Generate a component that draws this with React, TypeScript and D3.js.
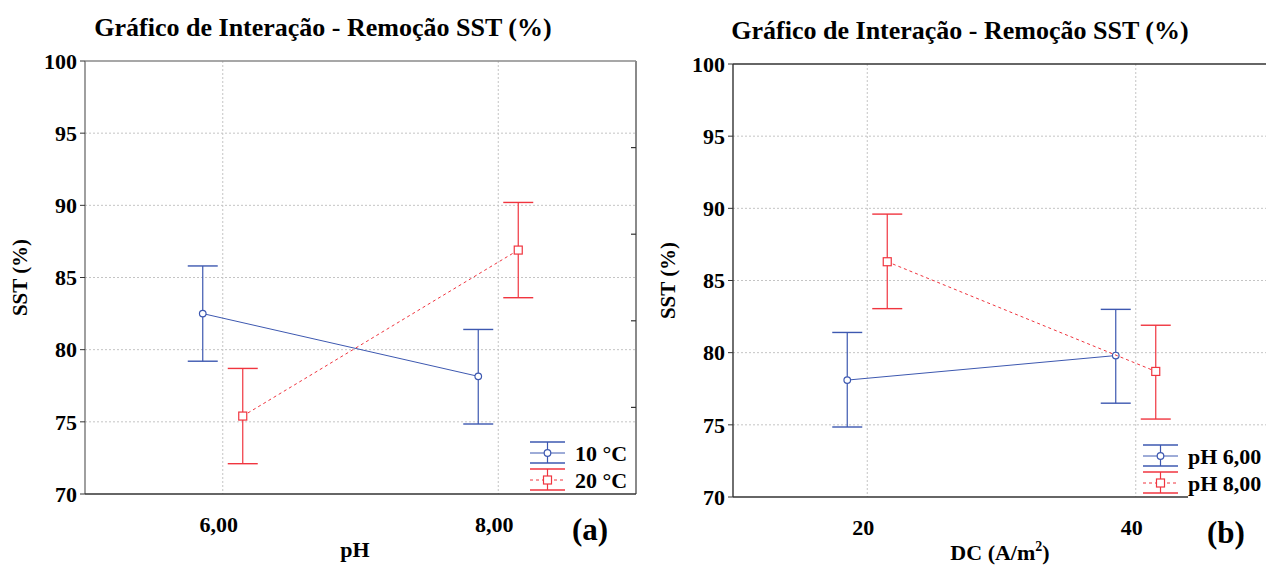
import React from "react";
import * as d3 from "d3";

// ---------- data ----------
const yTicks = [70, 75, 80, 85, 90, 95, 100];

const phLevels = [6, 8];
const phTickLabels = ["6,00", "8,00"];
const tempSeriesNames = ["10 °C", "20 °C"];
const sst10C = [82.5, 78.15];
const sst10CLow = [79.2, 74.85];
const sst10CHigh = [85.8, 81.4];
const sst20C = [75.4, 86.9];
const sst20CLow = [72.1, 83.6];
const sst20CHigh = [78.7, 90.2];

const dcLevels = [20, 40];
const dcTickLabels = ["20", "40"];
const phSeriesNames = ["pH 6,00", "pH 8,00"];
const sstPh6 = [78.1, 79.8];
const sstPh6Low = [74.85, 76.5];
const sstPh6High = [81.4, 83.0];
const sstPh8 = [86.3, 78.7];
const sstPh8Low = [83.05, 75.4];
const sstPh8High = [89.6, 81.9];

const TITLE = "Gráfico de Interação - Remoção SST (%)";

// ---------- styles ----------
const BLUE = "#3d58b0";
const RED = "#f0353f";
const GRID = "#c4c4c4";
const FONT = "'Liberation Serif', 'Times New Roman', serif";
const FS = 22;

type Series = {
  name: string;
  mean: number[];
  low: number[];
  high: number[];
  color: string;
  dashed: boolean;
  marker: "circle" | "square";
  dodge: number;
};

type PanelProps = {
  left: number;
  right: number;
  top: number;
  bottom: number;
  xDomain: [number, number];
  xLevels: number[];
  xLabels: string[];
  series: Series[];
  xTitle: React.ReactNode;
  xTitleX: number;
  tag: string;
  titleX: number;
  titleY: number;
  yTitleX: number;
  framed: boolean;
  axisEnd: number;
  legendX: number;
  legendTextX: number;
  tagX: number;
};

function Marker({ kind, x, y, color }: { kind: string; x: number; y: number; color: string }) {
  if (kind === "circle")
    return <circle cx={x} cy={y} r={3.3} fill="#fff" stroke={color} strokeWidth={1.2} />;
  return <rect x={x - 4} y={y - 4} width={8} height={8} fill="#fff" stroke={color} strokeWidth={1.2} />;
}

function Panel(p: PanelProps) {
  const x = d3.scaleLinear().domain(p.xDomain).range([p.left, p.right]);
  const y = d3.scaleLinear().domain([70, 100]).range([p.bottom, p.top]);
  const rightScale = d3.scaleLinear().domain([0, 5]).range([p.bottom, p.top]);
  const cap = 15;
  const lineGen = (s: Series) =>
    d3
      .line<number>()
      .x((_, i) => x(p.xLevels[i]) + s.dodge)
      .y((v) => y(v))(s.mean) || "";

  return (
    <g>
      <text
        x={p.titleX}
        y={p.titleY}
        textAnchor="middle"
        fontFamily={FONT}
        fontWeight="bold"
        fontSize={26}
      >
        {TITLE}
      </text>
      {/* grid */}
      {yTicks.slice(1, -1).map((t) => (
        <line
          key={"gy" + t}
          x1={p.left}
          x2={p.right}
          y1={y(t)}
          y2={y(t)}
          stroke={GRID}
          strokeDasharray="2,2"
        />
      ))}
      {p.xLevels.map((t) => (
        <line
          key={"gx" + t}
          x1={x(t)}
          x2={x(t)}
          y1={p.top}
          y2={p.bottom}
          stroke={GRID}
          strokeDasharray="2,2"
        />
      ))}
      {/* frame */}
      <line x1={p.left} x2={p.right} y1={p.top} y2={p.top} stroke={p.framed ? "#8a8a8a" : "#333"} strokeWidth={1.6} />
      <line x1={p.left} x2={p.left} y1={p.top} y2={p.bottom} stroke={p.framed ? "#777" : "#333"} strokeWidth={1.4} />
      {p.framed && (
        <line x1={p.right} x2={p.right} y1={p.top} y2={p.bottom} stroke="#8a8a8a" strokeWidth={2} />
      )}
      {p.framed &&
        rightScale.ticks(5).slice(1, -1).map((t) => (
          <line
            key={"rt" + t}
            x1={p.right - 5}
            x2={p.right}
            y1={rightScale(t)}
            y2={rightScale(t)}
            stroke="#333"
            strokeWidth={1.2}
          />
        ))}
      <line x1={p.left} x2={p.axisEnd} y1={p.bottom} y2={p.bottom} stroke="#333" strokeWidth={1.6} />
      {/* y ticks */}
      {yTicks.map((t) => (
        <g key={"yt" + t}>
          <line x1={p.left - 5} x2={p.left} y1={y(t)} y2={y(t)} stroke="#333" />
          <text
            x={p.left - 8}
            y={y(t)}
            dy="0.35em"
            textAnchor="end"
            fontFamily={FONT}
            fontWeight="bold"
            fontSize={FS}
          >
            {t}
          </text>
        </g>
      ))}
      {/* x tick labels */}
      {p.xLevels.map((t, i) => (
        <text
          key={"xt" + t}
          x={x(t) - 4}
          y={p.bottom + 38}
          textAnchor="middle"
          fontFamily={FONT}
          fontWeight="bold"
          fontSize={FS}
        >
          {p.xLabels[i]}
        </text>
      ))}
      <text
        x={p.xTitleX}
        y={p.bottom + 63}
        textAnchor="middle"
        fontFamily={FONT}
        fontWeight="bold"
        fontSize={FS}
      >
        {p.xTitle}
      </text>
      <text
        transform={`translate(${p.yTitleX},${(p.top + p.bottom) / 2}) rotate(-90)`}
        textAnchor="middle"
        fontFamily={FONT}
        fontWeight="bold"
        fontSize={21}
      >
        SST (%)
      </text>
      <text
        x={p.tagX}
        y={p.bottom + 46}
        textAnchor="middle"
        fontFamily={FONT}
        fontWeight="bold"
        fontSize={31}
      >
        {p.tag}
      </text>
      {/* series */}
      {p.series.map((s) => (
        <g key={s.name}>
          <path
            d={lineGen(s)}
            fill="none"
            stroke={s.color}
            strokeWidth={1}
            strokeDasharray={s.dashed ? "3,3" : undefined}
          />
          {s.mean.map((v, i) => {
            const cx = x(p.xLevels[i]) + s.dodge;
            return (
              <g key={i}>
                <line x1={cx} x2={cx} y1={y(s.low[i])} y2={y(s.high[i])} stroke={s.color} strokeWidth={1.2} />
                <line x1={cx - cap} x2={cx + cap} y1={y(s.low[i])} y2={y(s.low[i])} stroke={s.color} strokeWidth={1.4} />
                <line x1={cx - cap} x2={cx + cap} y1={y(s.high[i])} y2={y(s.high[i])} stroke={s.color} strokeWidth={1.4} />
                <Marker kind={s.marker} x={cx} y={y(v)} color={s.color} />
              </g>
            );
          })}
        </g>
      ))}
      {/* legend */}
      {p.series.map((s, i) => {
        const cy = p.bottom - 41 + i * 27;
        const lx = p.legendX;
        return (
          <g key={"lg" + s.name}>
            <line x1={lx} x2={lx + 35} y1={cy - 11} y2={cy - 11} stroke={s.color} strokeWidth={1.3} />
            <line x1={lx} x2={lx + 35} y1={cy + 10} y2={cy + 10} stroke={s.color} strokeWidth={1.3} />
            <line x1={lx + 17.5} x2={lx + 17.5} y1={cy - 11} y2={cy + 10} stroke={s.color} strokeWidth={1.2} />
            <line
              x1={lx}
              x2={lx + 35}
              y1={cy}
              y2={cy}
              stroke={s.color}
              strokeWidth={1}
              strokeDasharray={s.dashed ? "3,3" : undefined}
            />
            <Marker kind={s.marker} x={lx + 17.5} y={cy} color={s.color} />
            <text
              x={p.legendTextX}
              y={cy}
              dy="0.35em"
              fontFamily={FONT}
              fontWeight="bold"
              fontSize={FS}
            >
              {s.name}
            </text>
          </g>
        );
      })}
    </g>
  );
}

export default function App() {
  const seriesA: Series[] = [
    { name: tempSeriesNames[0], mean: sst10C, low: sst10CLow, high: sst10CHigh, color: BLUE, dashed: false, marker: "circle", dodge: -20 },
    { name: tempSeriesNames[1], mean: sst20C, low: sst20CLow, high: sst20CHigh, color: RED, dashed: true, marker: "square", dodge: 20 },
  ];
  const seriesB: Series[] = [
    { name: phSeriesNames[0], mean: sstPh6, low: sstPh6Low, high: sstPh6High, color: BLUE, dashed: false, marker: "circle", dodge: -20 },
    { name: phSeriesNames[1], mean: sstPh8, low: sstPh8Low, high: sstPh8High, color: RED, dashed: true, marker: "square", dodge: 20 },
  ];
  return (
    <svg
      width={1266}
      height={565}
      style={{ position: "absolute", left: 0, top: 0, background: "#fff" }}
    >
      <rect width={1266} height={565} fill="#fff" />
      <Panel
        left={85}
        right={636}
        top={61}
        bottom={494}
        xDomain={[5, 9]}
        xLevels={phLevels}
        xLabels={phTickLabels}
        series={seriesA}
        xTitle="pH"
        xTitleX={355}
        tag="(a)"
        titleX={323}
        titleY={36}
        yTitleX={27}
        framed={true}
        axisEnd={636}
        legendX={530}
        legendTextX={575}
        tagX={590}
      />
      <Panel
        left={733}
        right={1270}
        top={64}
        bottom={497}
        xDomain={[10, 50]}
        xLevels={dcLevels}
        xLabels={dcTickLabels}
        series={seriesB}
        xTitle={
          <tspan>
            DC (A/m<tspan dy={-9} fontSize={14}>2</tspan>
            <tspan dy={9}>)</tspan>
          </tspan>
        }
        xTitleX={1000}
        tag="(b)"
        titleX={960}
        titleY={39}
        yTitleX={675}
        framed={false}
        axisEnd={1188}
        legendX={1143}
        legendTextX={1188}
        tagX={1226}
      />
    </svg>
  );
}
